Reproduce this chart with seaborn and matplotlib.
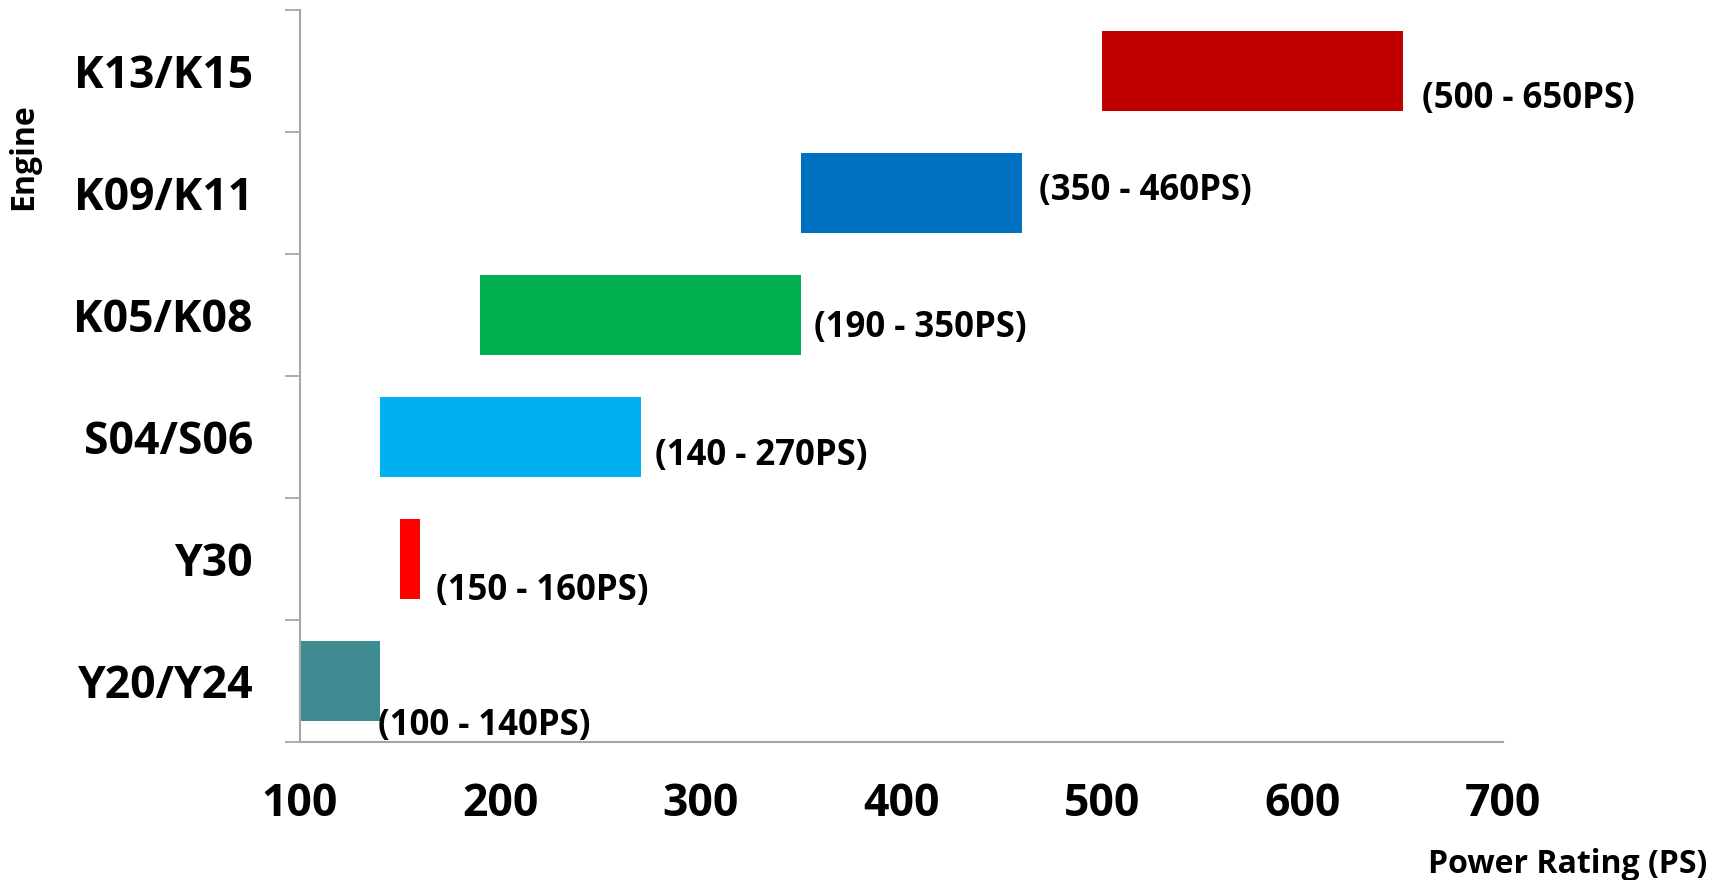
# Import the packages
import pandas as pd
import matplotlib.pyplot as plt
import seaborn as sns
from matplotlib.ticker import FixedLocator

# Data
engines = ["K13/K15", "K09/K11", "K05/K08", "S04/S06", "Y30", "Y20/Y24"]
power_min = [500, 350, 190, 140, 150, 100]
power_max = [650, 460, 350, 270, 160, 140]
bar_colors = ["#C00000", "#0070C0", "#00B050", "#00B0F0", "#FF0000", "#3E8C91"]
x_ticks = [100, 200, 300, 400, 500, 600, 700]

# Label offsets in pixels (dx, dy) as placed in the original
label_offsets = [(19, -28), (17, 2), (13, -13), (14, -19), (16, -32), (-2, -45)]

df = pd.DataFrame({"Engine": engines, "Min": power_min, "Max": power_max})

sns.set_style("white")
plt.rcParams["font.family"] = ["Open Sans", "DejaVu Sans"]
plt.rcParams["font.weight"] = "bold"
plt.rcParams["text.color"] = "black"
plt.rcParams["axes.labelcolor"] = "black"
plt.rcParams["xtick.labelcolor"] = "black"
plt.rcParams["ytick.labelcolor"] = "black"

fig = plt.figure(figsize=(17.29, 8.80), dpi=100)
ax = fig.add_axes([0.1735, 0.1568, 0.6958, 0.8318])

# Full bars up to the max rating
sns.barplot(data=df, x="Max", y="Engine", hue="Engine", order=engines,
            palette=bar_colors, legend=False, width=0.65, linewidth=0,
            saturation=1, ax=ax)
# White mask from the axis start up to the min rating
sns.barplot(data=df, x="Min", y="Engine", order=engines, color="white",
            width=0.67, linewidth=0, saturation=1, ax=ax)

# Range labels
for i, (lo, hi) in enumerate(zip(power_min, power_max)):
    dx, dy = label_offsets[i]
    ax.annotate(f"({lo} - {hi}PS)", xy=(hi, i), xytext=(dx, dy),
                textcoords="offset pixels", ha="left", va="center",
                fontsize=25, fontweight="bold", color="black")

ax.set_xlim(100, 700)
ax.set_ylim(len(engines) - 0.5, -0.5)
ax.set_xticks(x_ticks)
ax.set_xticklabels([str(t) for t in x_ticks], fontsize=32, fontweight="bold")
ax.set_yticklabels(engines, fontsize=32, fontweight="bold")
ax.yaxis.set_minor_locator(FixedLocator([i - 0.5 for i in range(len(engines) + 1)]))
ax.tick_params(axis="y", which="major", length=0, pad=34, labelcolor="black")
ax.tick_params(axis="y", which="minor", length=11, width=1.3, color="#A6A6A6", left=True)
ax.tick_params(axis="x", which="major", length=0, pad=29, labelcolor="black")

for side in ["top", "right"]:
    ax.spines[side].set_visible(False)
for side in ["left", "bottom"]:
    ax.spines[side].set_color("#A6A6A6")
    ax.spines[side].set_linewidth(1.5)

ax.set_ylabel("Engine", fontsize=23, fontweight="bold", color="black")
ax.yaxis.set_label_coords(-0.216, 0.80)
ax.set_xlabel("Power Rating (PS)", fontsize=23, fontweight="bold", ha="right", color="black")
ax.xaxis.set_label_coords(1.17, -0.145)

plt.savefig("out.png", dpi=100)
